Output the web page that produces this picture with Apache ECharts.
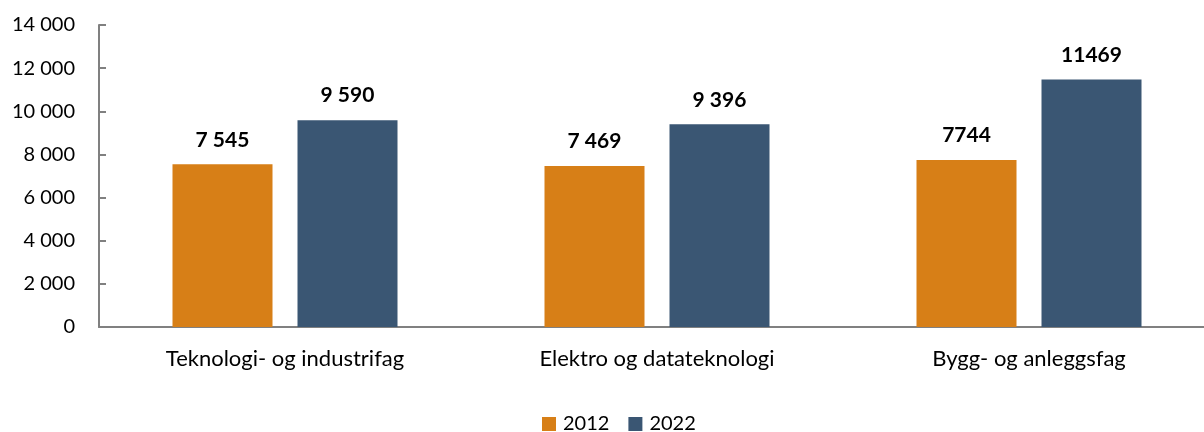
<!DOCTYPE html>
<html>
<head>
<meta charset="utf-8">
<script src="https://cdn.jsdelivr.net/npm/echarts@6/dist/echarts.min.js"></script>
<style>
  html, body { margin: 0; padding: 0; background: #fff; }
  #chart { width: 1204px; height: 432px; }
</style>
</head>
<body>
<div id="chart"></div>
<script>
// data
const categories = ['Teknologi- og industrifag', 'Elektro og datateknologi', 'Bygg- og anleggsfag']
const seriesNames = ['2012', '2022']
const values2012 = [7545, 7469, 7744]
const values2022 = [9590, 9396, 11469]
// value labels as printed in the source (last group has no thousand separator)
const labels2012 = ['7 545', '7 469', '7744']
const labels2022 = ['9 590', '9 396', '11469']

const colors = ['#D77F17', '#3A5673']
const font = 'Lato, "Open Sans", sans-serif'

// thousand separator with a space, as in the source
const fmt = v => String(v).replace(/\B(?=(\d{3})+(?!\d))/g, ' ')

const chart = echarts.init(document.getElementById('chart'))

const makeSeries = (name, data, labels, color) => ({
  name: name,
  type: 'bar',
  data: data,
  barWidth: 100,
  barGap: '25%',
  itemStyle: { color: color },
  label: {
    show: true,
    position: 'top',
    distance: 14,
    fontFamily: font,
    fontWeight: 'bold',
    fontSize: 21,
    color: '#000',
    formatter: p => labels[p.dataIndex]
  }
})

chart.setOption({
  animation: false,
  grid: {
    left: 99,
    top: 25,
    width: 1116,
    height: 302,
    outerBoundsMode: 'none'
  },
  legend: {
    top: 409,
    left: 537,
    itemWidth: 14,
    itemHeight: 14,
    itemGap: 19,
    icon: 'rect',
    textStyle: { fontFamily: font, fontSize: 20, color: '#000', padding: [0, 0, 0, 2] },
    data: seriesNames
  },
  xAxis: {
    type: 'category',
    data: categories,
    axisLine: { lineStyle: { color: '#808080', width: 2 } },
    axisTick: { show: false },
    axisLabel: { fontFamily: font, fontSize: 22, color: '#000', margin: 21 }
  },
  yAxis: {
    type: 'value',
    min: 0,
    max: 14000,
    interval: 2000,
    splitLine: { show: false },
    axisLine: { show: true, lineStyle: { color: '#808080', width: 2 } },
    axisTick: { show: true, inside: true, length: 7, lineStyle: { color: '#808080', width: 2 } },
    axisLabel: {
      fontFamily: font,
      fontSize: 20,
      color: '#000',
      margin: 24,
      formatter: v => fmt(v)
    }
  },
  series: [
    makeSeries(seriesNames[0], values2012, labels2012, colors[0]),
    makeSeries(seriesNames[1], values2022, labels2022, colors[1])
  ]
})
</script>
</body>
</html>
